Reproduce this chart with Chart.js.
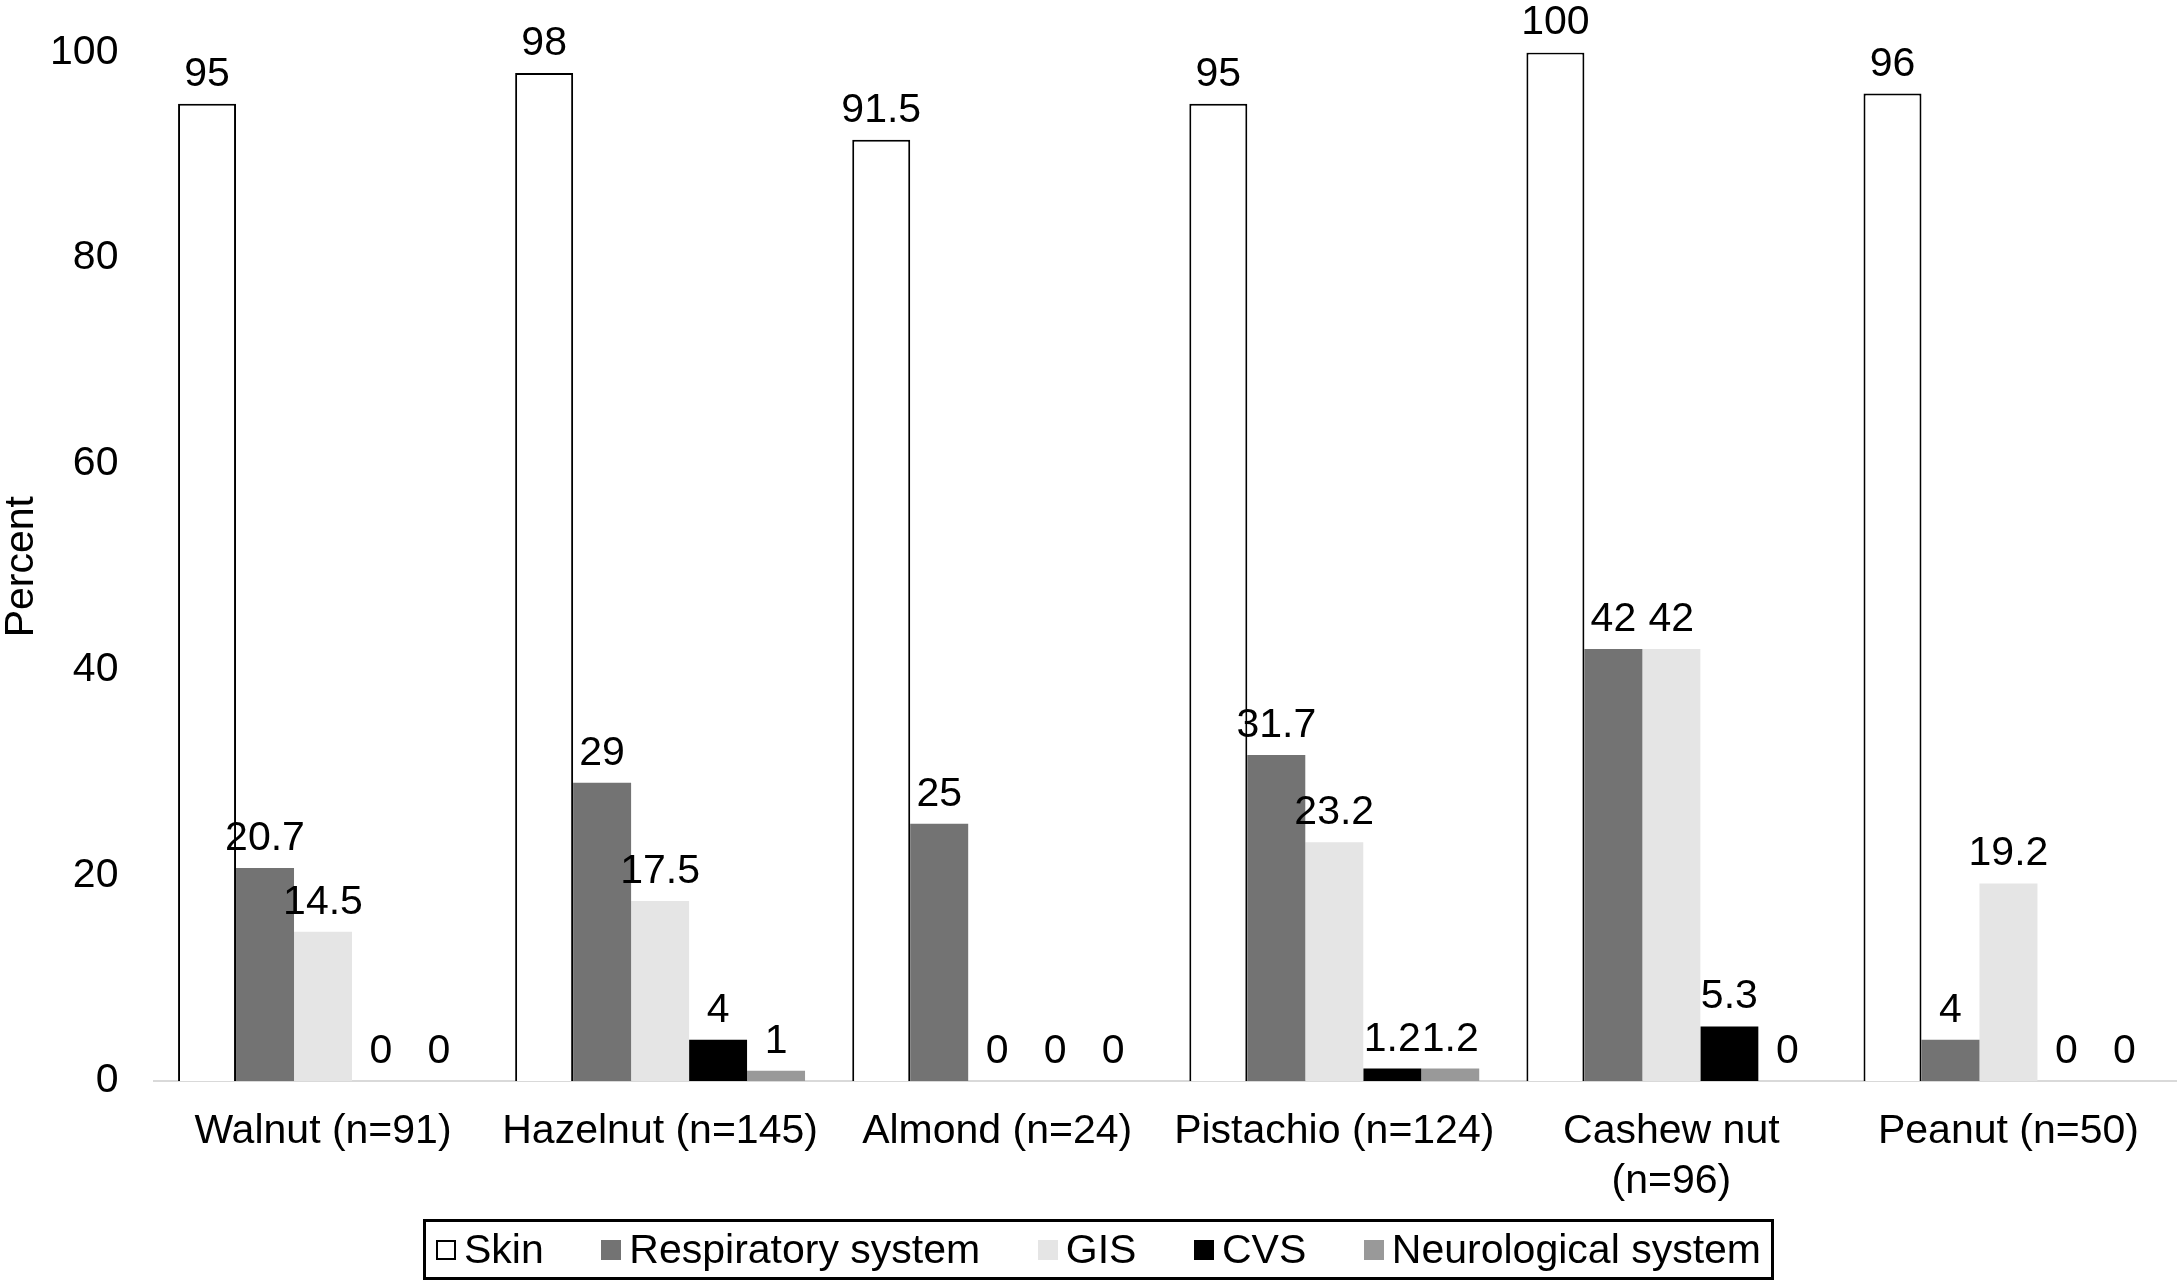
<!DOCTYPE html>
<html>
<head>
<meta charset="utf-8">
<script src="https://cdn.jsdelivr.net/npm/chart.js@4/dist/chart.umd.min.js"></script>
<style>
  html, body { margin: 0; padding: 0; background: #fff; }
  #wrap { position: relative; width: 2177px; height: 1286px; }
  #legend {
    position: absolute; left: 423px; top: 1219px; width: 1351px; height: 61px;
    box-sizing: border-box; border: 3px solid #000; padding: 0 10px;
    display: flex; align-items: center; justify-content: space-between;
    font: 41px "Liberation Sans", Arial, sans-serif;
    color: #000;
  }
  #legend .item { display: flex; align-items: center; white-space: nowrap; }
  #legend .sw { width: 20px; height: 20px; box-sizing: border-box; margin-right: 8px; }
</style>
</head>
<body>
<div id="wrap">
  <canvas id="chart"></canvas>
  <div id="legend"></div>
</div>
<script>
const FONT = '"Liberation Sans", Arial, sans-serif';

// data
const categories = ['Walnut (n=91)', 'Hazelnut (n=145)', 'Almond (n=24)', 'Pistachio (n=124)', ['Cashew nut', '(n=96)'], 'Peanut (n=50)'];
const seriesNames = ['Skin', 'Respiratory system', 'GIS', 'CVS', 'Neurological system'];
const skin = [95, 98, 91.5, 95, 100, 96];
const respiratory = [20.7, 29, 25, 31.7, 42, 4];
const gis = [14.5, 17.5, 0, 23.2, 42, 19.2];
const cvs = [0, 4, 0, 1.2, 5.3, 0];
const neuro = [0, 1, 0, 1.2, 0, 0];
const yTicks = [0, 20, 40, 60, 80, 100];

const fills = ['#ffffff', '#737373', '#e5e5e5', '#000000', '#999999'];
const values = [skin, respiratory, gis, cvs, neuro];

const datasets = values.map((vals, i) => ({
  label: seriesNames[i],
  data: vals,
  backgroundColor: fills[i],
  borderColor: '#000',
  borderWidth: i === 0 ? 2 : 0
}));

// number above every bar, zeros included
const valueLabels = {
  id: 'valueLabels',
  afterDatasetsDraw(chart) {
    const ctx = chart.ctx;
    ctx.save();
    ctx.font = '41px ' + FONT;
    ctx.fillStyle = '#000';
    ctx.textAlign = 'center';
    ctx.textBaseline = 'alphabetic';
    chart.data.datasets.forEach((ds, i) => {
      chart.getDatasetMeta(i).data.forEach((bar, j) => {
        ctx.fillText(String(ds.data[j]), bar.x, bar.y - 18);
      });
    });
    ctx.restore();
  }
};

new Chart(document.getElementById('chart'), {
  type: 'bar',
  data: { labels: categories, datasets: datasets },
  plugins: [valueLabels],
  options: {
    responsive: true,
    maintainAspectRatio: false,
    animation: false,
    layout: { padding: { top: 8, right: 0, bottom: 53, left: 0 } },
    plugins: { legend: { display: false }, tooltip: { enabled: false } },
    datasets: { bar: { categoryPercentage: 0.86, barPercentage: 1 } },
    scales: {
      x: {
        grid: { display: false, drawTicks: false },
        border: { display: true, color: '#d9d9d9', width: 2 },
        ticks: { color: '#000', padding: 26, maxRotation: 0, autoSkip: false,
                 font: { family: FONT, size: 41, lineHeight: 1.22 } }
      },
      y: {
        min: 0, max: 100,
        afterBuildTicks: axis => { axis.ticks = yTicks.map(v => ({ value: v })); },
        grid: { display: false, drawTicks: false },
        border: { display: false },
        ticks: { color: '#000', padding: 36, font: { family: FONT, size: 41, lineHeight: 0.8 } },
        title: { display: true, text: 'Percent', color: '#000', padding: { top: 0, bottom: -29 },
                 font: { family: FONT, size: 41, lineHeight: 1.05 } }
      }
    }
  }
});

// boxed legend under the axis
const legend = document.getElementById('legend');
seriesNames.forEach((name, i) => {
  const item = document.createElement('span');
  item.className = 'item';
  const sw = document.createElement('span');
  sw.className = 'sw';
  sw.style.background = fills[i];
  if (i === 0) sw.style.border = '2px solid #000';
  item.appendChild(sw);
  item.appendChild(document.createTextNode(name));
  legend.appendChild(item);
});
</script>
</body>
</html>
